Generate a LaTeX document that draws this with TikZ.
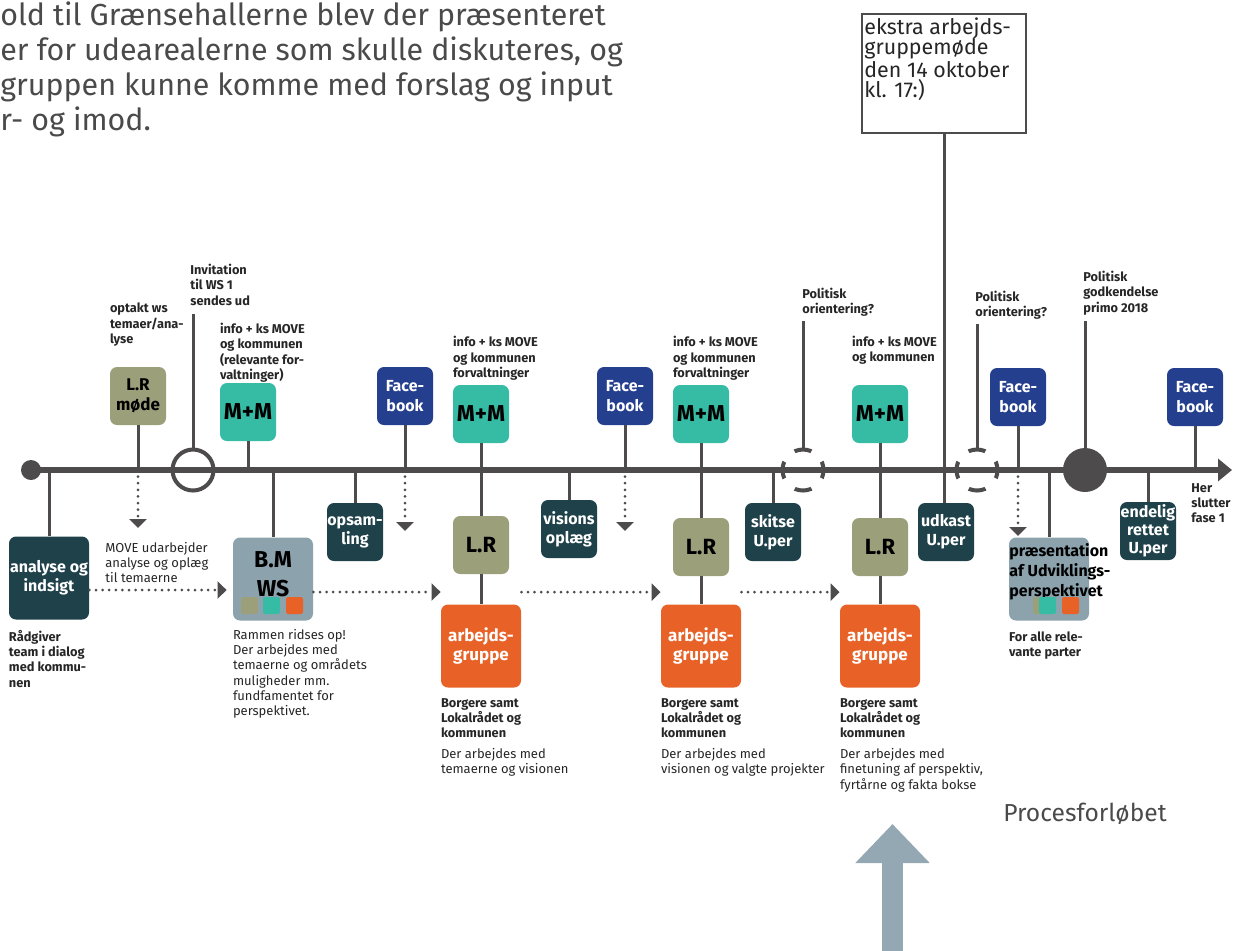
\documentclass[tikz,border=0pt]{standalone}
\usepackage{fontspec}
\setmainfont{Fira Sans}
\usetikzlibrary{arrows.meta, positioning}

\definecolor{deepteal}{HTML}{1F414A}
\definecolor{lrolive}{HTML}{9CA07A}
\definecolor{mmteal}{HTML}{36BBA4}
\definecolor{fbblue}{HTML}{253F8F}
\definecolor{agorange}{HTML}{E86228}
\definecolor{wsgrey}{HTML}{8CA3AE}
\definecolor{linegray}{HTML}{4D4B4B}
\definecolor{upgrey}{HTML}{94A8B3}
\definecolor{inkgray}{HTML}{4A4A4A}

\tikzset{
  box/.style={rounded corners=3.5pt, minimum width=28pt, minimum height=29pt, inner sep=0pt, align=center, font=\bfseries\fontsize{8}{9.5}\selectfont},
  bigsize/.style={minimum width=40pt, minimum height=41.5pt},
  darkbox/.style={box, fill=deepteal, text=white},
  lrbox/.style={box, fill=lrolive, font=\bfseries\fontsize{11}{13}\selectfont},
  mmbox/.style={box, fill=mmteal, font=\bfseries\fontsize{11.5}{13}\selectfont},
  fbbox/.style={box, fill=fbblue, text=white, font=\bfseries\fontsize{8}{10}\selectfont},
  agbox/.style={box, bigsize, fill=agorange, text=white, font=\bfseries\fontsize{8.5}{9.5}\selectfont},
  wsbox/.style={box, bigsize, fill=wsgrey},
  note/.style={inner sep=0pt, align=left, text=black!85, font=\fontsize{6.5}{7.6}\selectfont},
  bnote/.style={note, font=\bfseries\fontsize{6.4}{7.6}\selectfont},
  stem/.style={draw=linegray, line width=1.5pt},
  dotlink/.style={draw=linegray, line width=1.5pt, line cap=round, dash pattern=on 0pt off 3.3pt, -{Triangle[length=4.5pt, width=8.5pt]}},
  ring/.style={circle, draw=linegray, line width=2pt, minimum size=20.5pt, inner sep=0pt},
  maybe/.style={ring, dash pattern=on 8.6pt off 7.5pt, dash phase=4.3pt},
}

\begin{document}
\begin{tikzpicture}[x=0.5pt, y=-0.5pt]
  \useasboundingbox (0,0) rectangle (1236,950);

  % intro text, cut at the left edge
  \node[inner sep=0pt, anchor=north west, align=left, text=inkgray, font=\fontsize{15.2}{17.5}\selectfont] (intro) at (0,1)
    {old til Grænsehallerne blev der præsenteret\\er for udearealerne som skulle diskuteres, og\\gruppen kunne komme med forslag og input\\r- og imod.};

  % timeline
  \node[circle, fill=linegray, minimum size=10pt, inner sep=0pt] (start) at (31,470) {};
  \coordinate (tlend) at (1232,470);
  \coordinate (tl) at (0,470);
  \draw[linegray, line width=3pt, -{Triangle[length=7pt, width=11pt]}] (start.center) -- (tlend);

  \node[ring] (inv) at (193,470) {};
  \node[maybe] (pc1) at (803,470) {};
  \node[maybe] (pc2) at (977,470) {};
  \node[circle, fill=linegray, minimum size=22pt, inner sep=0pt] (godk) at (1085,470) {};

  % boxes above and below the line
  \node[darkbox, bigsize] (analyse) at (49,578) {analyse og\\indsigt};
  \node[lrbox, font=\bfseries\fontsize{8.5}{10}\selectfont] (lrmode) at (138,396) {L.R\\møde};
  \node[mmbox] (mm1) at (248,412) {M+M};
  \node[wsbox] (bm) at (273,579) {};
  \node[inner sep=0pt, align=center, font=\bfseries\fontsize{11.5}{14.5}\selectfont] (bmtxt) at (273,574) {B.M\\WS};
  \node[darkbox] (opsam) at (355,532) {opsam-\\ling};
  \node[fbbox] (fb1) at (405,396) {Face-\\book};
  \node[mmbox] (mm2) at (481,414) {M+M};
  \node[lrbox] (lr1) at (481,545) {L.R};
  \node[agbox] (ag1) at (481,646) {arbejds-\\gruppe};
  \node[darkbox] (visions) at (569,529) {visions\\oplæg};
  \node[fbbox] (fb2) at (625,396) {Face-\\book};
  \node[mmbox] (mm3) at (701,414) {M+M};
  \node[lrbox] (lr2) at (701,547) {L.R};
  \node[agbox] (ag2) at (701,646) {arbejds-\\gruppe};
  \node[darkbox] (skitse) at (773,532) {skitse\\U.per};
  \node[mmbox] (mm4) at (880,414) {M+M};
  \node[lrbox] (lr3) at (880,547) {L.R};
  \node[agbox] (ag3) at (880,646) {arbejds-\\gruppe};
  \node[draw=linegray, line width=1pt, fill=white, minimum width=82pt, minimum height=59.5pt, inner sep=0pt] (ekstra) at (944,73) {};
  \node[anchor=north west, inner sep=0pt, align=left, text=black!85, font=\fontsize{10.7}{10.3}\selectfont] (ekstratxt) at (864,17)
    {ekstra arbejds-\\gruppemøde\\den 14 oktober\\kl. 17:)};
  \node[darkbox] (udkast) at (946,532) {udkast\\U.per};
  \node[fbbox] (fb3) at (1018,397) {Face-\\book};
  \node[wsbox] (praes) at (1049,579) {};
  \node[anchor=north west, inner sep=0pt, align=left, font=\bfseries\fontsize{8}{10}\selectfont] (praestxt) at (1009,543)
    {præsentation\\af Udviklings-\\perspektivet};
  \node[darkbox, font=\bfseries\fontsize{8}{9}\selectfont] (endelig) at (1148,531) {endelig\\rettet\\U.per};
  \node[fbbox] (fb4) at (1195,397) {Face-\\book};

  % colour chips
  \fill[lrolive, rounded corners=0.8pt] (241,597) rectangle (258,614);
  \fill[mmteal, rounded corners=0.8pt] (263,597) rectangle (280,614);
  \fill[agorange, rounded corners=0.8pt] (286,597) rectangle (303,614);
  \fill[lrolive, rounded corners=0.8pt] (1033,597) rectangle (1050,614);
  \fill[mmteal, rounded corners=0.8pt] (1039,597) rectangle (1056,614);
  \fill[agorange, rounded corners=0.8pt] (1062,597) rectangle (1079,614);

  % labels above
  \node[bnote, above right=10pt and 0pt of lrmode.north west] (lrtxt) {optakt ws\\temaer/ana-\\lyse};
  \node[bnote, anchor=north west] (invtxt) at (190,264) {Invitation\\til WS 1\\sendes ud};
  \node[bnote, above right=0pt and 0pt of mm1.north west] (mm1txt) {info + ks MOVE\\og kommunen\\(relevante for-\\valtninger)};
  \node[bnote, above right=2pt and 0pt of mm2.north west] (mm2txt) {info + ks MOVE\\og kommunen\\forvaltninger};
  \node[bnote, above right=2pt and 0pt of mm3.north west] (mm3txt) {info + ks MOVE\\og kommunen\\forvaltninger};
  \node[bnote, above right=10pt and 0pt of mm4.north west] (mm4txt) {info + ks MOVE\\og kommunen};
  \node[bnote, anchor=north west] (pol1txt) at (802,288) {Politisk\\orientering?};
  \node[bnote, anchor=north west] (pol2txt) at (975,291) {Politisk\\orientering?};
  \node[bnote, anchor=north west] (godktxt) at (1083,271) {Politisk\\godkendelse\\primo 2018};
  \node[bnote, anchor=north west] (endtxt) at (1191,483) {Her\\slutter\\fase 1};

  % labels below
  \node[bnote, below right=5pt and 0pt of analyse.south west] (analysetxt) {Rådgiver\\team i dialog\\med kommu-\\nen};
  \node[note, anchor=north west] (movetxt) at (105,542) {MOVE udarbejder\\analyse og oplæg\\til temaerne};
  \node[note, below right=4pt and 0pt of bm.south west] (bmnote) {Rammen ridses op!\\Der arbejdes med\\temaerne og områdets\\muligheder mm.\\fundfamentet for\\perspektivet.};
  \node[bnote, below right=5pt and 0pt of ag1.south west] (ag1who) {Borgere samt\\Lokalrådet og\\kommunen};
  \node[note, below right=5pt and 0pt of ag1who.south west] (ag1what) {Der arbejdes med\\temaerne og visionen};
  \node[bnote, below right=5pt and 0pt of ag2.south west] (ag2who) {Borgere samt\\Lokalrådet og\\kommunen};
  \node[note, below right=5pt and 0pt of ag2who.south west] (ag2what) {Der arbejdes med\\visionen og valgte projekter};
  \node[bnote, below right=5pt and 0pt of ag3.south west] (ag3who) {Borgere samt\\Lokalrådet og\\kommunen};
  \node[note, below right=5pt and 0pt of ag3who.south west] (ag3what) {Der arbejdes med\\finetuning af perspektiv,\\fyrtårne og fakta bokse};
  \node[bnote, below right=5pt and 0pt of praes.south west] (praesnote) {For alle rele-\\vante parter};

  % stems to the timeline
  \draw[stem] (analyse.north) -- (analyse.north |- tl);
  \draw[stem] (lrmode.south) -- (lrmode.south |- tl);
  \draw[stem, shorten >=4pt] (inv.north) -- (inv.north |- invtxt.south);
  \draw[stem] (mm1.south) -- (mm1.south |- tl);
  \draw[stem] (bm.north) -- (bm.north |- tl);
  \draw[stem] (opsam.north) -- (opsam.north |- tl);
  \draw[stem] (fb1.south) -- (fb1.south |- tl);
  \draw[stem] (mm2.south) -- (lr1.north) (lr1.south) -- (ag1.north);
  \draw[stem] (visions.north) -- (visions.north |- tl);
  \draw[stem] (fb2.south) -- (fb2.south |- tl);
  \draw[stem] (mm3.south) -- (lr2.north) (lr2.south) -- (ag2.north);
  \draw[stem] (skitse.north) -- (skitse.north |- tl);
  \draw[stem, shorten >=2pt] (pc1.north) -- (pc1.north |- pol1txt.south);
  \draw[stem] (mm4.south) -- (lr3.north) (lr3.south) -- (ag3.north);
  \draw[stem] (ekstra.south) -- (ekstra.south |- udkast.north);
  \draw[stem, shorten >=2pt] (pc2.north) -- (pc2.north |- pol2txt.south);
  \draw[stem] (fb3.south) -- (fb3.south |- tl);
  \draw[stem] (praes.north) -- (praes.north |- tl);
  \draw[stem, shorten >=3pt] (godk.north) -- (godk.north |- godktxt.south);
  \draw[stem] (endelig.north) -- (endelig.north |- tl);
  \draw[stem] (fb4.south) -- (fb4.south |- tl);

  % dotted hand-overs
  \coordinate (lrtip) at (138,528);
  \coordinate (fb1tip) at (405,531);
  \coordinate (fb2tip) at (625,531);
  \coordinate (fb3tip) at (1018,536);
  \draw[dotlink] (lrmode.south |- tl) -- (lrtip);
  \draw[dotlink] (fb1.south |- tl) -- (fb1tip);
  \draw[dotlink] (fb2.south |- tl) -- (fb2tip);
  \draw[dotlink] (fb3.south |- tl) -- (fb3tip);
  \draw[dotlink, shorten >=3pt] ([yshift=-6pt]analyse.east) -- ([yshift=-6pt]analyse.east -| bm.west);
  \draw[dotlink] ([yshift=-6.5pt]bm.east) -- ([yshift=-6.5pt]bm.east -| ag1.west);
  \draw[dotlink] ([yshift=6pt]ag1.north east) -- ([yshift=6pt]ag1.north east -| ag2.west);
  \draw[dotlink] ([yshift=6pt]ag2.north east) -- ([yshift=6pt]ag2.north east -| ag3.west);

  % big arrow and caption
  \coordinate (upbase) at (892.5,952);
  \coordinate (uptip) at (892.5,824);
  \draw[upgrey, line width=10.5pt, -{Triangle[length=19.5pt, width=36pt]}] (upbase) -- (uptip);
  \node[anchor=west, inner sep=0pt, text=inkgray, font=\fontsize{12.3}{14}\selectfont] (procestxt) at (1003,814) {Procesforløbet};
\end{tikzpicture}
\end{document}
